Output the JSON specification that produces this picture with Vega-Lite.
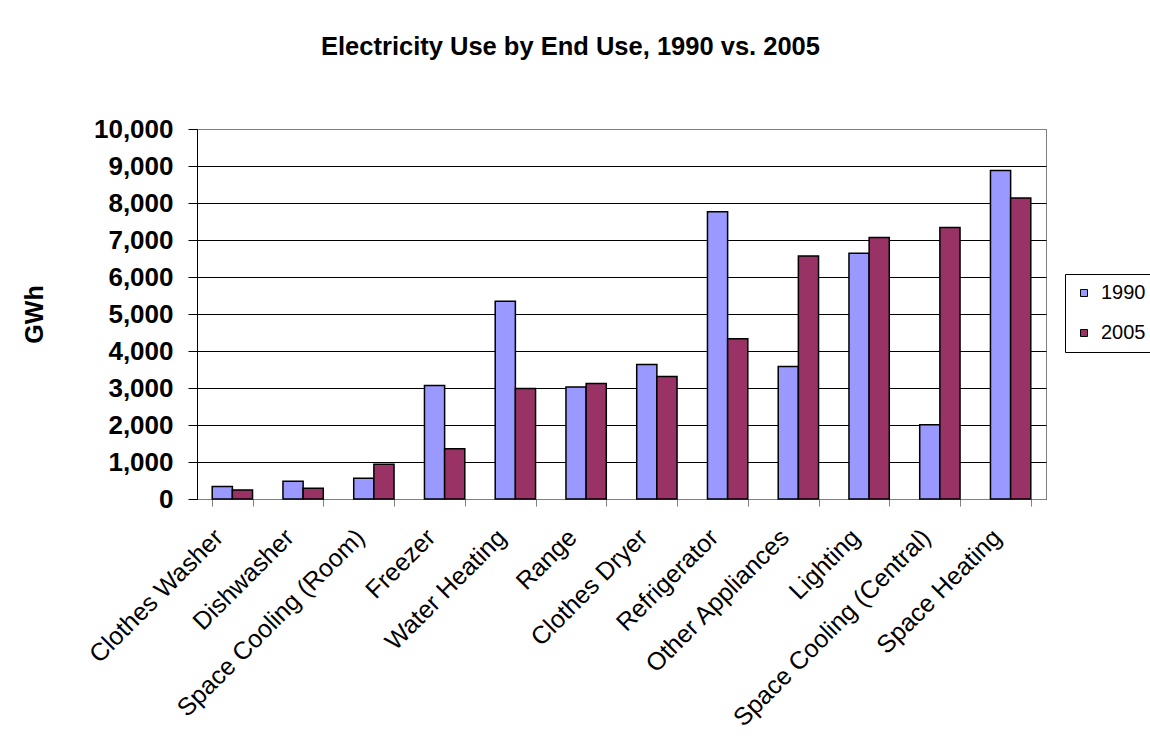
{
  "$schema": "https://vega.github.io/schema/vega-lite/v6.json",
  "autosize": {"type": "none"},
  "padding": {"left": 197, "top": 129, "right": 104, "bottom": 251},
  "width": 849,
  "height": 370,
  "background": "white",
  "title": {
    "text": "Electricity Use by End Use, 1990 vs. 2005",
    "font": "Liberation Sans",
    "fontSize": 25.5,
    "fontWeight": "bold",
    "color": "black",
    "anchor": "middle",
    "dx": -51,
    "offset": 56
  },
  "data": {
    "values": [
      {"category": "Clothes Washer", "year": "1990", "value": 335},
      {"category": "Clothes Washer", "year": "2005", "value": 245},
      {"category": "Dishwasher", "year": "1990", "value": 478},
      {"category": "Dishwasher", "year": "2005", "value": 290},
      {"category": "Space Cooling (Room)", "year": "1990", "value": 560},
      {"category": "Space Cooling (Room)", "year": "2005", "value": 940},
      {"category": "Freezer", "year": "1990", "value": 3065},
      {"category": "Freezer", "year": "2005", "value": 1355},
      {"category": "Water Heating", "year": "1990", "value": 5345},
      {"category": "Water Heating", "year": "2005", "value": 2985},
      {"category": "Range", "year": "1990", "value": 3030},
      {"category": "Range", "year": "2005", "value": 3120},
      {"category": "Clothes Dryer", "year": "1990", "value": 3635},
      {"category": "Clothes Dryer", "year": "2005", "value": 3310},
      {"category": "Refrigerator", "year": "1990", "value": 7765},
      {"category": "Refrigerator", "year": "2005", "value": 4330},
      {"category": "Other Appliances", "year": "1990", "value": 3580},
      {"category": "Other Appliances", "year": "2005", "value": 6565},
      {"category": "Lighting", "year": "1990", "value": 6645},
      {"category": "Lighting", "year": "2005", "value": 7070},
      {"category": "Space Cooling (Central)", "year": "1990", "value": 2010},
      {"category": "Space Cooling (Central)", "year": "2005", "value": 7340},
      {"category": "Space Heating", "year": "1990", "value": 8880},
      {"category": "Space Heating", "year": "2005", "value": 8135}
    ]
  },
  "mark": {"type": "bar", "stroke": "black", "strokeWidth": 1.5},
  "encoding": {
    "x": {
      "field": "category",
      "type": "nominal",
      "sort": null,
      "title": null,
      "scale": {"paddingInner": 0.43, "paddingOuter": 0.215},
      "axis": {
        "labelAngle": -45,
        "labelAlign": "right",
        "labelBaseline": "middle",
        "labelFont": "Liberation Sans",
        "labelFontSize": 25,
        "labelColor": "black",
        "labelPadding": 27,
        "labelOffset": -14,
        "labelLimit": 400,
        "tickBand": "extent",
        "tickSize": 7,
        "tickColor": "#808080",
        "domainColor": "#808080",
        "domainWidth": 1,
        "grid": false
      }
    },
    "xOffset": {"field": "year", "type": "nominal", "sort": ["1990", "2005"]},
    "y": {
      "field": "value",
      "type": "quantitative",
      "title": "GWh",
      "scale": {"domain": [0, 10000], "nice": false},
      "axis": {
        "values": [0, 1000, 2000, 3000, 4000, 5000, 6000, 7000, 8000, 9000, 10000],
        "format": ",d",
        "labelFont": "Liberation Sans",
        "labelFontSize": 26,
        "labelFontWeight": "bold",
        "labelColor": "black",
        "labelPadding": 15,
        "tickSize": 9,
        "tickColor": "black",
        "domainColor": "black",
        "domainWidth": 1,
        "grid": true,
        "gridColor": {"condition": {"test": "datum.value === 10000", "value": "#808080"}, "value": "black"},
        "gridWidth": 1,
        "gridOpacity": 1,
        "titleFont": "Liberation Sans",
        "titleFontSize": 25,
        "titleFontWeight": "bold",
        "titleColor": "black",
        "titlePadding": 46
      }
    },
    "color": {
      "field": "year",
      "type": "nominal",
      "scale": {"domain": ["1990", "2005"], "range": ["#9999FF", "#993366"]},
      "legend": {
        "title": null,
        "orient": "none",
        "legendX": 868,
        "legendY": 145,
        "direction": "vertical",
        "symbolType": "square",
        "symbolSize": 49,
        "symbolStrokeColor": "black",
        "symbolStrokeWidth": 1,
        "symbolOffset": 0,
        "labelFont": "Liberation Sans",
        "labelFontSize": 20,
        "labelColor": "black",
        "labelOffset": 7,
        "rowPadding": 20,
        "padding": 9,
        "strokeColor": "black",
        "fillColor": "white"
      }
    }
  },
  "config": {
    "view": {"stroke": "#808080", "strokeWidth": 1}
  }
}
